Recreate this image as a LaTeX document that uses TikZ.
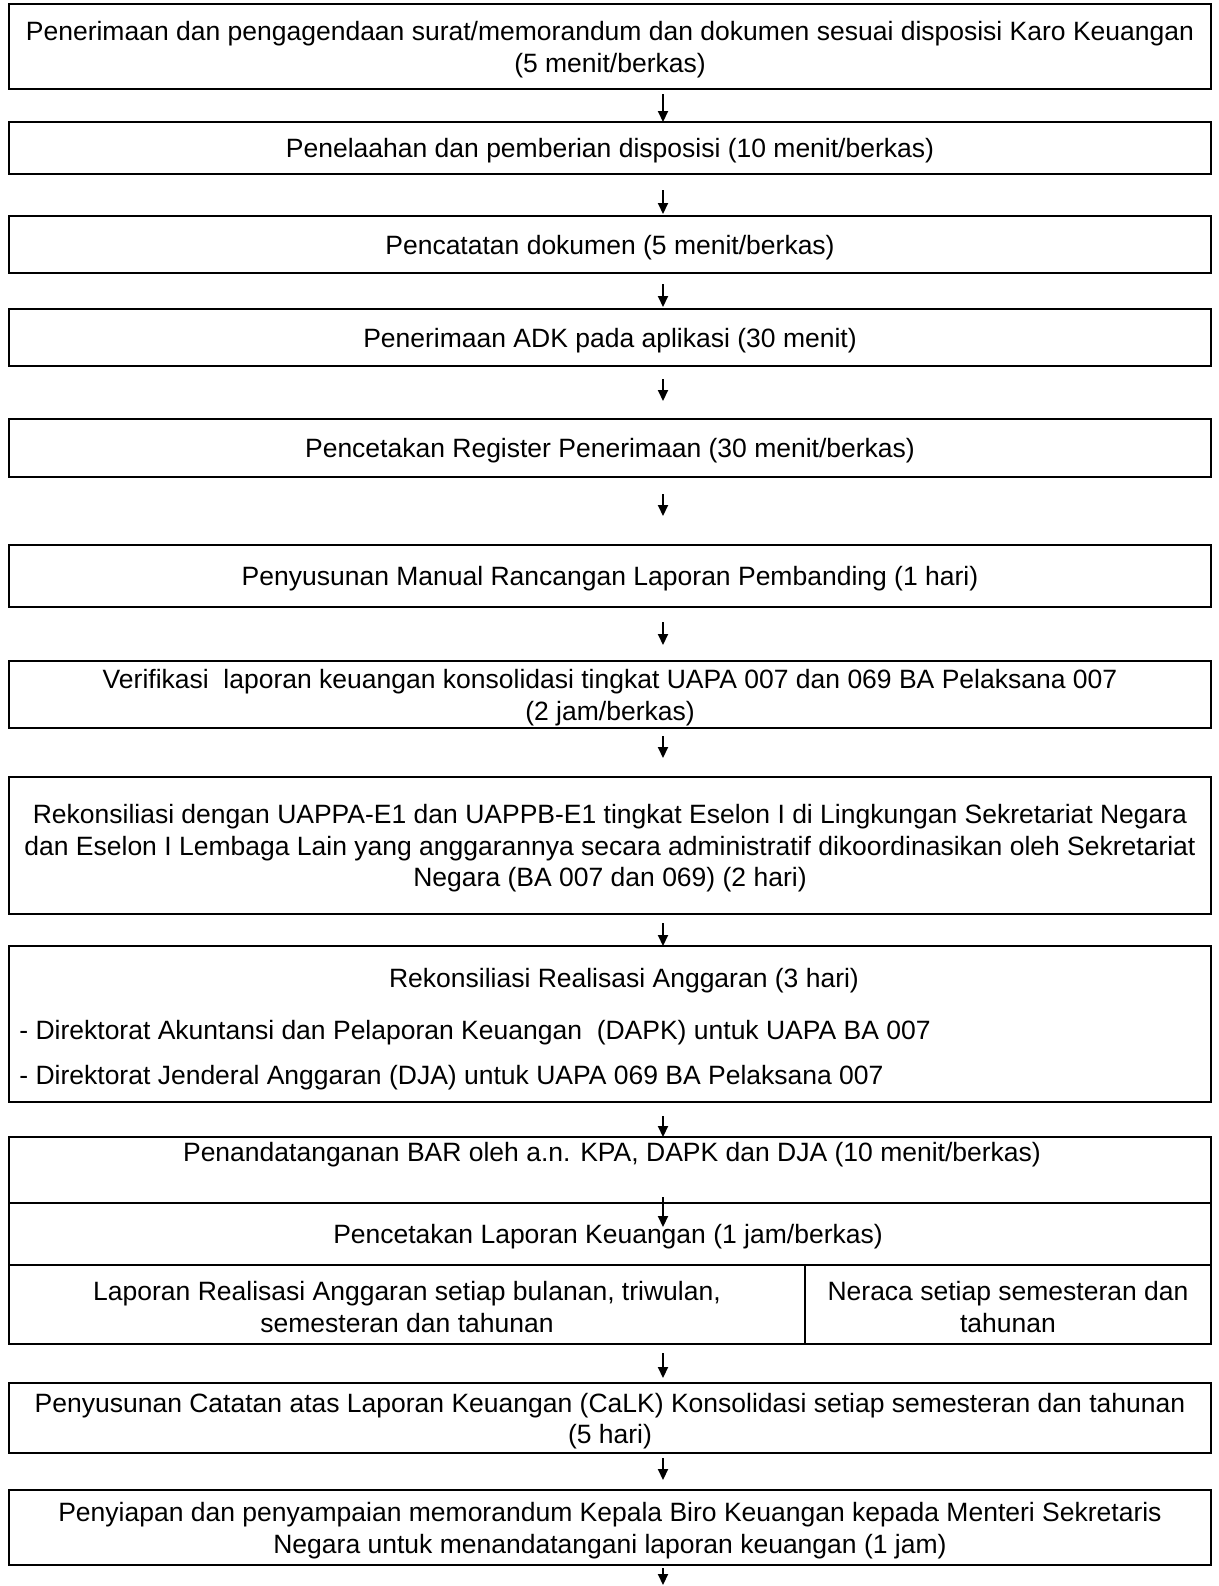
\documentclass[tikz,border=0pt]{standalone}
\usepackage{fontspec}
\setmainfont{Liberation Sans}
\usetikzlibrary{arrows.meta}
\newcommand\txtsz{\fontsize{13.25pt}{15.7pt}\selectfont}
\tikzset{
  box/.style={draw, line width=1.25pt, minimum width=601pt, inner sep=0pt},
  lbl/.style={inner sep=0pt, align=center, font=\txtsz},
  arr/.style={line width=1pt, -{Triangle[length=5.5pt,width=5pt]}},
  rule/.style={line width=1.25pt},
}
\newcommand\flowbox[4]{%
  \node[box, minimum height=#3] (#1) at (610,#2) {};
  \node[lbl, yshift=-1.5pt] (#1t) at (#1.center) {#4};
}
\begin{document}
\begin{tikzpicture}[x=0.5pt,y=-0.5pt]
\useasboundingbox[fill=white] (0,0) rectangle (1219,1586);
% boxes
\flowbox{b1}{46.5}{42.5pt}{Penerimaan dan pengagendaan surat/memorandum dan dokumen sesuai disposisi Karo Keuangan\\(5 menit/berkas)}
\flowbox{b2}{148}{26pt}{Penelaahan dan pemberian disposisi (10 menit/berkas)}
\flowbox{b3}{244.5}{28.5pt}{Pencatatan dokumen (5 menit/berkas)}
\flowbox{b4}{337.5}{28.5pt}{Penerimaan ADK pada aplikasi (30 menit)}
\flowbox{b5}{448}{29pt}{Pencetakan Register Penerimaan (30 menit/berkas)}
\flowbox{b6}{576}{31pt}{Penyusunan Manual Rancangan Laporan Pembanding (1 hari)}
\flowbox{b7}{694.5}{33.5pt}{Verifikasi~ laporan keuangan konsolidasi tingkat UAPA 007 dan 069 BA Pelaksana 007\\(2 jam/berkas)}
\flowbox{b8}{845.5}{68.5pt}{Rekonsiliasi dengan UAPPA-E1 dan UAPPB-E1 tingkat Eselon I di Lingkungan Sekretariat Negara\\dan Eselon I Lembaga Lain yang anggarannya secara administratif dikoordinasikan oleh Sekretariat\\Negara (BA 007 dan 069) (2 hari)}
\node[box, minimum height=78pt] (b9) at (610,1024) {};
\node[lbl] (b9t) at (624,981) {Rekonsiliasi Realisasi Anggaran (3 hari)};
\node[lbl, anchor=west] (b9a) at (19,1033) {- Direktorat Akuntansi dan Pelaporan Keuangan~ (DAPK) untuk UAPA BA 007};
\node[lbl, anchor=west] (b9b) at (19,1078) {- Direktorat Jenderal Anggaran (DJA) untuk UAPA 069 BA Pelaksana 007};
% table
\node[box, minimum height=103.5pt] (b10) at (610,1240.5) {};
\coordinate (r1l) at (9,1203); \coordinate (r1r) at (1211,1203);
\coordinate (r2l) at (9,1265); \coordinate (r2r) at (1211,1265);
\coordinate (vt) at (805,1265); \coordinate (vb) at (805,1344);
\draw[rule] (r1l) -- (r1r);
\draw[rule] (r2l) -- (r2r);
\draw[line width=0.8pt] (vt) -- (vb);
\node[lbl] (ra) at (612,1155) {Penandatanganan BAR oleh a.n. KPA, DAPK dan DJA (10 menit/berkas)};
\node[lbl] (rb) at (608,1237) {Pencetakan Laporan Keuangan (1 jam/berkas)};
\node[lbl] (rc1) at (407,1307) {Laporan Realisasi Anggaran setiap bulanan, triwulan,\\semesteran dan tahunan};
\node[lbl] (rc2) at (1008,1307) {Neraca setiap semesteran dan\\tahunan};
\flowbox{b11}{1418}{35pt}{Penyusunan Catatan atas Laporan Keuangan (CaLK) Konsolidasi setiap semesteran dan tahunan\\(5 hari)}
\flowbox{b12}{1527.5}{37.5pt}{Penyiapan dan penyampaian memorandum Kepala Biro Keuangan kepada Menteri Sekretaris\\Negara untuk menandatangani laporan keuangan (1 jam)}
% arrow coordinates
\foreach \n/\ya/\yb in {1/94/122, 2/190/214, 3/284/307, 4/379/401, 5/494/516, 6/622/645, 7/736/758, 8/923/946, 9/1116/1137, 10/1197/1227, 11/1353/1378, 12/1458/1480, 13/1568/1585}{
  \coordinate (s\n) at (663,\ya);
  \coordinate (e\n) at (663,\yb);
}
\foreach \n in {1,...,13}{\draw[arr] (s\n) -- (e\n);}
\end{tikzpicture}
\end{document}
